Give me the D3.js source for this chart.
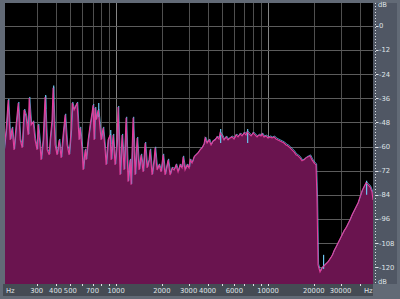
<!DOCTYPE html>
<html>
<head>
<meta charset="utf-8">
<script src="https://cdn.jsdelivr.net/npm/d3@7"></script>
<style>
  html, body { margin: 0; padding: 0; background: #626a76; }
  svg { display: block; }
  text { font-family: "DejaVu Sans", sans-serif; font-size: 6.8px; fill: #dfe2e6; }
</style>
</head>
<body>
<div id="chart"></div>
<script>
// spectrum: frequency (Hz) and level (dB)
const freqs = [183, 189, 195, 201, 207, 213, 220, 227, 234, 241, 248, 256, 264, 268, 276, 285, 293, 302, 307, 316,
  321, 331, 341, 352, 363, 368, 379, 385, 397, 409, 422, 435, 448, 462, 476, 491, 506, 514, 529, 546,
  554, 571, 580, 598, 607, 626, 635, 655, 675, 696, 706, 717, 728, 739, 762, 773, 797, 822, 847, 860,
  886, 914, 928, 956, 985, 1015, 1031, 1063, 1095, 1129, 1164, 1199, 1236, 1255, 1294, 1334, 1375, 1417, 1461, 1506,
  1552, 1600, 1649, 1674, 1725, 1778, 1806, 1861, 1918, 1977, 2038, 2101, 2165, 2199, 2266, 2336, 2408, 2482, 2558, 2637,
  2718, 2759, 2844, 2932, 3022, 3068, 3162, 3260, 3360, 3463, 3570, 3680, 3793, 3852, 3971, 4093, 4217, 4347, 4481, 4619,
  4761, 4833, 4982, 5136, 5294, 5457, 5623, 5797, 5976, 6159, 6349, 6545, 6747, 6955, 7169, 7278, 7499, 7733, 7971, 8216,
  8469, 8729, 8998, 9132, 9412, 9702, 10000, 10308, 10625, 10952, 11289, 11636, 11994, 12363, 12743, 13136, 13540, 13956, 14386, 14828,
  15284, 15754, 16238, 16738, 17252, 17783, 18330, 18894, 19475, 20074, 20691, 21007, 21328, 21984, 22661, 23357, 24076, 24816, 25580, 26367,
  27178, 28014, 28876, 29764, 30680, 31623, 32596, 33598, 34632, 35697, 36795, 37927, 39094, 40296, 41536, 42813, 44130, 45488, 46887, 48329,
  49068];
const levels = [-61.6, -51.7, -36.8, -56.7, -50.7, -61.6, -49.2, -38.3, -56.7, -60.6, -41.8, -45.2, -54.2, -35.8, -49.2, -47.7, -56.7, -61.6, -49.2, -59.2,
  -66.6, -56.7, -35.3, -61.6, -64.1, -56.7, -46.7, -30.8, -59.2, -64.1, -56.7, -65.6, -54.2, -44.2, -59.2, -64.1, -51.7, -38.3, -41.8, -39.3,
  -38.3, -56.7, -50.7, -61.6, -71.6, -61.6, -66.6, -56.7, -49.2, -42.8, -39.3, -56.7, -40.8, -46.7, -41.8, -45.7, -56.7, -50.7, -61.6, -69.1,
  -56.7, -54.2, -66.6, -54.2, -69.1, -56.7, -40.3, -74.1, -54.2, -71.6, -45.7, -77.5, -66.6, -79.0, -45.7, -74.1, -55.7, -71.6, -64.1, -72.6,
  -58.2, -70.6, -66.6, -61.6, -74.1, -66.6, -60.6, -71.6, -69.1, -72.6, -64.1, -74.1, -69.1, -66.6, -74.1, -70.6, -71.6, -69.1, -72.6, -69.1,
  -70.6, -65.1, -71.6, -69.1, -70.6, -66.6, -68.1, -65.1, -64.1, -63.1, -61.6, -60.6, -58.7, -55.7, -58.2, -56.7, -59.2, -57.2, -56.7, -55.2,
  -56.2, -53.2, -54.7, -56.7, -55.2, -56.7, -55.7, -55.2, -56.2, -54.2, -55.2, -53.7, -54.7, -53.2, -54.2, -52.7, -53.7, -54.7, -53.2, -54.2,
  -55.2, -54.2, -54.7, -53.7, -55.2, -54.7, -55.7, -55.2, -55.7, -55.2, -56.2, -56.7, -57.2, -57.7, -58.2, -59.2, -59.7, -60.6, -61.6, -62.6,
  -64.1, -64.6, -65.6, -67.1, -66.6, -65.6, -65.1, -64.6, -66.6, -68.1, -69.1, -86.5, -118.8, -122.3, -120.3, -119.3, -118.3, -117.3, -115.8, -114.3,
  -111.8, -109.9, -107.9, -105.9, -103.9, -101.9, -100.4, -98.4, -96.4, -94.0, -92.0, -90.0, -88.0, -85.0, -82.0, -80.0, -78.0, -79.0, -80.0, -82.5,
  -86.5];

// places where the second (cyan) channel pokes above the pink one
const cyanPeakFreqs = [341, 385, 762, 914, 4833, 7278, 23000, 44130];
const cyanPeakLevels = [-34.3, -29.6, -38.3, -51.7, -51.2, -51.2, -113.8, -77.0];

const gridFreqs = [300, 400, 500, 600, 700, 800, 900, 2000, 3000, 4000, 5000, 6000, 7000, 8000, 9000,
  20000, 30000, 40000];
const majorFreqs = [1000, 10000];
const freqLabels = [300, 400, 500, 700, 1000, 2000, 3000, 4000, 6000, 10000, 20000, 30000];
const dbTicks = [0, -12, -24, -36, -48, -60, -72, -84, -96, -108, -120];

const width = 400, height = 299;
const plot = { left: 5, right: 373, top: 3, bottom: 284 };

const svg = d3.select("#chart").append("svg")
  .attr("width", width)
  .attr("height", height);

const x = d3.scaleLog().domain([183, 49068]).range([4, 373]);
const y = d3.scaleLinear().domain([11.4, -128.3]).range([plot.top, plot.bottom]);

// frame pieces
svg.append("rect")
  .attr("x", plot.left).attr("y", plot.top)
  .attr("width", plot.right - plot.left).attr("height", plot.bottom - plot.top)
  .attr("fill", "#000");
svg.append("rect") // right scale panel
  .attr("x", plot.right).attr("y", plot.top)
  .attr("width", 24).attr("height", plot.bottom - plot.top)
  .attr("fill", "#505764");
svg.append("rect") // bottom scale strip
  .attr("x", 3).attr("y", plot.bottom)
  .attr("width", plot.right - 3).attr("height", 12)
  .attr("fill", "#454b54");

svg.append("clipPath").attr("id", "clip")
  .append("rect")
  .attr("x", plot.left).attr("y", plot.top)
  .attr("width", plot.right - plot.left).attr("height", plot.bottom - plot.top);

const g = svg.append("g").attr("clip-path", "url(#clip)");

// grid
g.selectAll("line.vg")
  .data(gridFreqs.concat(majorFreqs))
  .enter().append("line")
  .attr("class", "vg")
  .attr("x1", d => Math.round(x(d)) + 0.5).attr("x2", d => Math.round(x(d)) + 0.5)
  .attr("y1", plot.top).attr("y2", plot.bottom)
  .attr("stroke", d => majorFreqs.includes(d) ? "#858585" : "#4f4f4f")
  .attr("stroke-width", 1);

g.selectAll("line.hg")
  .data(dbTicks)
  .enter().append("line")
  .attr("class", "hg")
  .attr("x1", plot.left).attr("x2", plot.right)
  .attr("y1", d => Math.round(y(d)) + 0.5).attr("y2", d => Math.round(y(d)) + 0.5)
  .attr("stroke", "#5c5c5c")
  .attr("stroke-width", 1);

// spectrum
const pts = freqs.map((f, i) => [f, levels[i]]);

const area = d3.area()
  .x(d => x(d[0]))
  .y0(plot.bottom)
  .y1(d => y(d[1]));

const line = d3.line()
  .x(d => x(d[0]))
  .y(d => y(d[1]));

g.append("path")
  .datum(pts)
  .attr("d", area)
  .attr("fill", "#6a144f");

g.append("path") // cyan channel, just behind the pink one
  .datum(pts)
  .attr("d", line)
  .attr("transform", "translate(0.6,-1)")
  .attr("fill", "none")
  .attr("stroke", "#5fb6e6")
  .attr("stroke-width", 1)
  .attr("opacity", 0.8);

g.selectAll("line.cyan")
  .data(cyanPeakFreqs.map((f, i) => [f, cyanPeakLevels[i]]))
  .enter().append("line")
  .attr("class", "cyan")
  .attr("x1", d => x(d[0]) + 0.6).attr("x2", d => x(d[0]) + 0.6)
  .attr("y1", d => y(d[1])).attr("y2", d => y(d[1]) + 14)
  .attr("stroke", "#6cc4ee")
  .attr("stroke-width", 1.2);

g.append("path")
  .datum(pts)
  .attr("d", line)
  .attr("fill", "none")
  .attr("stroke", "#e23f9e")
  .attr("stroke-width", 1.1);

// right dB scale
svg.append("line")
  .attr("x1", 375.5).attr("x2", 375.5)
  .attr("y1", plot.top).attr("y2", plot.bottom)
  .attr("stroke", "#d8dce2")
  .attr("stroke-dasharray", "1,2");

const yAxis = svg.append("g");
yAxis.selectAll("line")
  .data(dbTicks)
  .enter().append("line")
  .attr("x1", 376).attr("x2", 378.5)
  .attr("y1", d => Math.round(y(d)) + 0.5).attr("y2", d => Math.round(y(d)) + 0.5)
  .attr("stroke", "#dfe2e6");
yAxis.selectAll("text")
  .data(dbTicks)
  .enter().append("text")
  .attr("x", 379)
  .attr("y", d => y(d))
  .attr("dy", "0.35em")
  .text(d => d);

svg.append("text").attr("x", 378).attr("y", plot.top + 2).attr("dy", "0.35em").text("dB");
svg.append("text").attr("x", 378).attr("y", plot.bottom - 2).attr("dy", "0.35em").text("dB");

// bottom Hz scale
const xAxis = svg.append("g");
xAxis.selectAll("line")
  .data(gridFreqs.concat(majorFreqs))
  .enter().append("line")
  .attr("x1", d => Math.round(x(d)) + 0.5).attr("x2", d => Math.round(x(d)) + 0.5)
  .attr("y1", plot.bottom).attr("y2", plot.bottom + 2)
  .attr("stroke", "#dfe2e6");
xAxis.selectAll("text")
  .data(freqLabels)
  .enter().append("text")
  .attr("x", d => x(d))
  .attr("y", plot.bottom + 9)
  .attr("text-anchor", "middle")
  .text(d => d);

svg.append("text").attr("x", 6).attr("y", plot.bottom + 9).text("Hz");
svg.append("text").attr("x", 364).attr("y", plot.bottom + 9).text("Hz");
</script>
</body>
</html>
